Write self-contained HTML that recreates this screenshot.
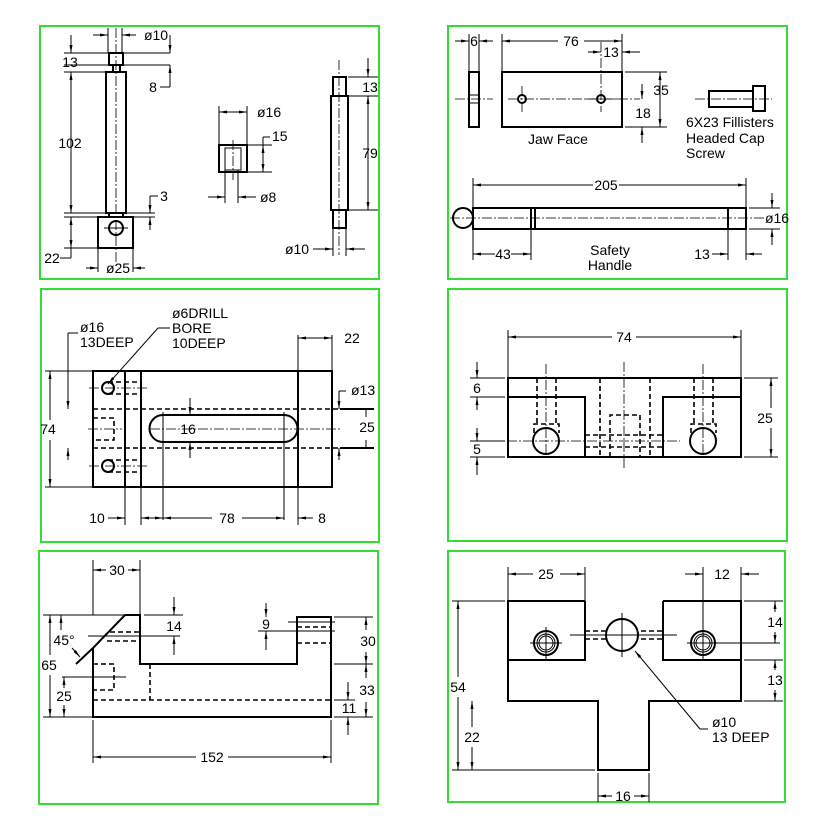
<!DOCTYPE html>
<html><head><meta charset="utf-8"><style>
html,body{margin:0;padding:0;background:#fff}
svg{display:block}
text{font-family:"Liberation Sans",sans-serif;font-size:14px;fill:#000;dominant-baseline:central;text-anchor:middle}
.t{text-anchor:start}
.b{fill:none;stroke:#000;stroke-width:2}
.n{fill:none;stroke:#000;stroke-width:1}
.h{fill:none;stroke:#000;stroke-width:1.6;stroke-dasharray:5,3}
.c{fill:none;stroke:#000;stroke-width:0.8;stroke-dasharray:10,2,2,2}
.g{fill:none;stroke:#33dd33;stroke-width:2}
</style></head><body>
<svg width="822" height="824" viewBox="0 0 822 824">
<defs><marker id="a" markerWidth="8" markerHeight="6" refX="8" refY="3" orient="auto-start-reverse"><path d="M0,1.5L8,3L0,4.5z" fill="#000"/></marker></defs>
<rect class="g" x="40" y="26" width="339" height="253"/>
<rect class="g" x="448" y="26" width="339" height="253"/>
<rect class="g" x="41" y="289" width="338" height="253"/>
<rect class="g" x="448" y="289" width="339" height="252"/>
<rect class="g" x="39" y="551" width="339" height="253"/>
<rect class="g" x="448" y="551" width="337" height="251"/>

<!-- PANEL 1 -->
<rect class="b" x="109" y="53" width="14" height="12"/>
<rect class="b" x="113" y="65" width="7" height="7"/>
<rect class="b" x="106" y="72" width="20" height="141"/>
<rect class="b" x="109" y="213" width="14" height="4"/>
<rect class="b" x="98" y="217" width="35" height="31"/>
<circle class="b" cx="116" cy="228" r="7"/>
<line class="c" x1="116" y1="28" x2="116" y2="262"/>
<line class="n" x1="104" y1="228" x2="128" y2="228"/>
<line class="n" x1="108" y1="28" x2="108" y2="53"/><line class="n" x1="122" y1="28" x2="122" y2="53"/>
<line class="n" x1="93" y1="35" x2="108" y2="35" marker-end="url(#a)"/><line class="n" x1="136" y1="35" x2="122" y2="35" marker-end="url(#a)"/>
<text x="156" y="35">ø10</text>
<line class="n" x1="64" y1="53" x2="170" y2="53"/><line class="n" x1="64" y1="65" x2="170" y2="65"/>
<line class="n" x1="64" y1="72" x2="106" y2="72"/><line class="n" x1="64" y1="213" x2="106" y2="213"/>
<line class="n" x1="64" y1="217" x2="98" y2="217"/><line class="n" x1="64" y1="248" x2="98" y2="248"/>
<line class="n" x1="71" y1="35" x2="71" y2="53" marker-end="url(#a)"/>
<line class="n" x1="71" y1="72" x2="71" y2="213" marker-start="url(#a)" marker-end="url(#a)"/>
<line class="n" x1="71" y1="217" x2="71" y2="248" marker-start="url(#a)" marker-end="url(#a)"/>
<text x="70" y="62">13</text><text x="70" y="143">102</text><text x="52" y="258">22</text>
<line class="n" x1="60" y1="258" x2="71" y2="258"/><line class="n" x1="71" y1="248" x2="71" y2="258"/>
<line class="n" x1="170" y1="35" x2="170" y2="53" marker-end="url(#a)"/>
<line class="n" x1="170" y1="80" x2="170" y2="65" marker-end="url(#a)"/>
<line class="n" x1="170" y1="80" x2="170" y2="87"/><line class="n" x1="160" y1="87" x2="170" y2="87"/>
<text x="153" y="87">8</text>
<line class="n" x1="126" y1="213" x2="155" y2="213"/><line class="n" x1="133" y1="217" x2="155" y2="217"/>
<line class="n" x1="150" y1="196" x2="150" y2="213" marker-end="url(#a)"/>
<line class="n" x1="150" y1="230" x2="150" y2="217" marker-end="url(#a)"/>
<line class="n" x1="150" y1="196" x2="158" y2="196"/><text x="164" y="196">3</text>
<line class="n" x1="98" y1="248" x2="98" y2="272"/><line class="n" x1="133" y1="248" x2="133" y2="272"/>
<line class="n" x1="86" y1="268" x2="98" y2="268" marker-end="url(#a)"/><line class="n" x1="145" y1="268" x2="133" y2="268" marker-end="url(#a)"/>
<text x="118" y="268">ø25</text>
<rect class="b" x="219" y="145" width="28" height="27"/>
<rect class="n" x="225" y="148" width="16" height="22"/>
<line class="c" x1="233" y1="140" x2="233" y2="180"/>
<line class="n" x1="219" y1="106" x2="219" y2="145"/><line class="n" x1="247" y1="106" x2="247" y2="145"/>
<line class="n" x1="219" y1="112" x2="247" y2="112" marker-start="url(#a)" marker-end="url(#a)"/>
<text x="257" y="112" class="t">ø16</text>
<line class="n" x1="247" y1="145" x2="272" y2="145"/><line class="n" x1="247" y1="172" x2="272" y2="172"/>
<line class="n" x1="263" y1="145" x2="263" y2="172" marker-start="url(#a)" marker-end="url(#a)"/>
<line class="n" x1="263" y1="137" x2="263" y2="145"/><line class="n" x1="263" y1="137" x2="270" y2="137"/>
<text x="272" y="136" class="t">15</text>
<line class="n" x1="225" y1="170" x2="225" y2="203"/><line class="n" x1="238" y1="170" x2="238" y2="203"/>
<line class="n" x1="208" y1="197" x2="225" y2="197" marker-end="url(#a)"/><line class="n" x1="256" y1="197" x2="238" y2="197" marker-end="url(#a)"/>
<text x="260" y="197" class="t">ø8</text>
<rect class="b" x="333" y="77" width="13" height="19"/>
<rect class="b" x="331" y="96" width="17" height="114"/>
<rect class="b" x="333" y="210" width="13" height="18"/>
<line class="c" x1="339" y1="60" x2="339" y2="255"/>
<line class="n" x1="348" y1="77" x2="378" y2="77"/><line class="n" x1="348" y1="96" x2="378" y2="96"/><line class="n" x1="348" y1="210" x2="378" y2="210"/>
<line class="n" x1="368" y1="58" x2="368" y2="77" marker-end="url(#a)"/>
<line class="n" x1="368" y1="96" x2="368" y2="210" marker-start="url(#a)" marker-end="url(#a)"/>
<text x="370" y="87">13</text><text x="370" y="153">79</text>
<line class="n" x1="333" y1="228" x2="333" y2="256"/><line class="n" x1="346" y1="228" x2="346" y2="256"/>
<line class="n" x1="313" y1="249" x2="333" y2="249" marker-end="url(#a)"/><line class="n" x1="365" y1="249" x2="346" y2="249" marker-end="url(#a)"/>
<text x="297" y="249">ø10</text>

<!-- PANEL 2 -->
<rect class="b" x="469" y="72" width="10" height="55"/>
<line class="c" x1="455" y1="99" x2="493" y2="99"/>
<line class="n" x1="469" y1="95" x2="479" y2="95"/><line class="n" x1="469" y1="103" x2="479" y2="103"/>
<line class="n" x1="469" y1="34" x2="469" y2="72"/><line class="n" x1="479" y1="34" x2="479" y2="72"/>
<line class="n" x1="455" y1="41" x2="469" y2="41" marker-end="url(#a)"/><line class="n" x1="493" y1="41" x2="479" y2="41" marker-end="url(#a)"/>
<text x="474" y="41">6</text>
<rect class="b" x="502" y="72" width="120" height="55"/>
<circle class="b" cx="522" cy="99" r="4"/><circle class="b" cx="601" cy="99" r="4"/>
<line class="c" x1="508" y1="99" x2="622" y2="99"/><line class="c" x1="586" y1="99" x2="640" y2="99"/>
<line class="c" x1="522" y1="86" x2="522" y2="112"/><line class="c" x1="601" y1="42" x2="601" y2="112"/>
<line class="n" x1="502" y1="34" x2="502" y2="72"/><line class="n" x1="622" y1="34" x2="622" y2="72"/>
<line class="n" x1="502" y1="41" x2="558" y2="41" marker-start="url(#a)"/><line class="n" x1="584" y1="41" x2="622" y2="41" marker-end="url(#a)"/>
<text x="571" y="41">76</text>
<line class="n" x1="588" y1="52" x2="601" y2="52" marker-end="url(#a)"/><line class="n" x1="640" y1="52" x2="622" y2="52" marker-end="url(#a)"/>
<text x="611" y="52">13</text>
<line class="n" x1="625" y1="72" x2="667" y2="72"/><line class="n" x1="625" y1="127" x2="667" y2="127"/>
<line class="n" x1="660" y1="72" x2="660" y2="127" marker-start="url(#a)" marker-end="url(#a)"/>
<text x="661" y="90">35</text>
<line class="n" x1="642" y1="84" x2="642" y2="99" marker-end="url(#a)"/>
<line class="n" x1="642" y1="143" x2="642" y2="127" marker-end="url(#a)"/>
<text x="643" y="113">18</text>
<text x="558" y="139">Jaw Face</text>
<rect class="b" x="709" y="91" width="44" height="16"/>
<rect class="b" x="753" y="86" width="12" height="25"/>
<line class="c" x1="695" y1="99" x2="772" y2="99"/>
<text x="686" y="122" class="t">6X23 Fillisters</text>
<text x="686" y="138" class="t">Headed Cap</text>
<text x="686" y="153" class="t">Screw</text>
<rect class="b" x="473" y="208" width="273" height="21"/>
<circle class="b" cx="463" cy="218" r="10"/>
<line class="b" x1="531" y1="208" x2="531" y2="229"/><line class="b" x1="535" y1="208" x2="535" y2="229"/>
<line class="b" x1="728" y1="208" x2="728" y2="229"/>
<line class="c" x1="450" y1="218" x2="765" y2="218"/>
<line class="n" x1="473" y1="178" x2="473" y2="260"/><line class="n" x1="746" y1="178" x2="746" y2="229"/>
<line class="n" x1="473" y1="185" x2="593" y2="185" marker-start="url(#a)"/><line class="n" x1="619" y1="185" x2="746" y2="185" marker-end="url(#a)"/>
<text x="606" y="185">205</text>
<line class="n" x1="749" y1="208" x2="780" y2="208"/><line class="n" x1="749" y1="229" x2="780" y2="229"/>
<line class="n" x1="772" y1="193" x2="772" y2="208" marker-end="url(#a)"/>
<line class="n" x1="772" y1="245" x2="772" y2="229" marker-end="url(#a)"/>
<text x="777" y="218">ø16</text>
<line class="n" x1="531" y1="229" x2="531" y2="260"/>
<line class="n" x1="495" y1="254" x2="473" y2="254" marker-end="url(#a)"/><line class="n" x1="511" y1="254" x2="531" y2="254" marker-end="url(#a)"/>
<text x="503" y="254">43</text>
<line class="n" x1="728" y1="229" x2="728" y2="260"/><line class="n" x1="746" y1="229" x2="746" y2="260"/>
<line class="n" x1="712" y1="254" x2="728" y2="254" marker-end="url(#a)"/><line class="n" x1="762" y1="254" x2="746" y2="254" marker-end="url(#a)"/>
<text x="702" y="254">13</text>
<text x="610" y="250">Safety</text><text x="610" y="265">Handle</text>

<!-- PANEL 3 -->
<rect class="b" x="93" y="371" width="239" height="116"/>
<line class="b" x1="125" y1="371" x2="125" y2="487"/><line class="b" x1="141" y1="371" x2="141" y2="487"/>
<line class="b" x1="298" y1="371" x2="298" y2="487"/>
<path class="b" d="M163,415 L284,415 A13.5,13.5 0 0 1 284,442 L163,442 A13.5,13.5 0 0 1 163,415z"/>
<line class="h" x1="93" y1="409" x2="340" y2="409"/><line class="h" x1="93" y1="448" x2="340" y2="448"/>
<line class="b" x1="340" y1="409" x2="374" y2="409"/><line class="b" x1="340" y1="448" x2="374" y2="448"/>
<path class="h" d="M93,418 L114,418 L114,440 L93,440"/>
<line class="c" x1="88" y1="429" x2="122" y2="429"/><line class="c" x1="150" y1="429" x2="340" y2="429"/>
<circle class="b" cx="108" cy="388" r="6"/><circle class="b" cx="108" cy="466" r="6"/>
<line class="h" x1="108" y1="382" x2="141" y2="382"/><line class="h" x1="108" y1="394" x2="141" y2="394"/>
<line class="h" x1="108" y1="460" x2="141" y2="460"/><line class="h" x1="108" y1="472" x2="141" y2="472"/>
<line class="c" x1="89" y1="388" x2="148" y2="388"/><line class="c" x1="89" y1="466" x2="148" y2="466"/>
<text x="188" y="429">16</text>
<line class="n" x1="190" y1="398" x2="190" y2="415" marker-end="url(#a)"/>
<line class="n" x1="190" y1="458" x2="190" y2="442" marker-end="url(#a)"/>
<line class="n" x1="163" y1="412" x2="163" y2="520"/><line class="n" x1="284" y1="412" x2="284" y2="520"/>
<line class="n" x1="125" y1="487" x2="125" y2="525"/><line class="n" x1="141" y1="487" x2="141" y2="525"/><line class="n" x1="298" y1="487" x2="298" y2="525"/>
<line class="n" x1="298" y1="335" x2="298" y2="371"/><line class="n" x1="332" y1="335" x2="332" y2="371"/>
<line class="n" x1="298" y1="338" x2="332" y2="338" marker-start="url(#a)" marker-end="url(#a)"/>
<text x="352" y="338">22</text>
<line class="n" x1="108" y1="518" x2="125" y2="518" marker-end="url(#a)"/><text x="97" y="518">10</text>
<line class="n" x1="141" y1="518" x2="163" y2="518" marker-start="url(#a)" marker-end="url(#a)"/>
<line class="n" x1="163" y1="518" x2="212" y2="518" marker-start="url(#a)"/><line class="n" x1="242" y1="518" x2="284" y2="518" marker-end="url(#a)"/>
<text x="227" y="518">78</text>
<line class="n" x1="313" y1="518" x2="298" y2="518" marker-end="url(#a)"/><text x="322" y="518">8</text>
<line class="n" x1="45" y1="371" x2="93" y2="371"/><line class="n" x1="45" y1="487" x2="93" y2="487"/>
<line class="n" x1="50" y1="371" x2="50" y2="420" marker-start="url(#a)"/><line class="n" x1="50" y1="440" x2="50" y2="487" marker-end="url(#a)"/>
<text x="48" y="429">74</text>
<line class="n" x1="68" y1="333" x2="68" y2="409" marker-end="url(#a)"/><line class="n" x1="68" y1="333" x2="78" y2="333"/>
<line class="n" x1="68" y1="460" x2="68" y2="448" marker-end="url(#a)"/>
<text x="80" y="327" class="t">ø16</text><text x="80" y="342" class="t">13DEEP</text>
<line class="n" x1="108" y1="384" x2="158" y2="328" marker-start="url(#a)"/><line class="n" x1="158" y1="328" x2="170" y2="328"/>
<text x="172" y="313" class="t">ø6DRILL</text><text x="172" y="328" class="t">BORE</text><text x="172" y="343" class="t">10DEEP</text>
<line class="n" x1="339" y1="391" x2="339" y2="409" marker-end="url(#a)"/><line class="n" x1="339" y1="391" x2="346" y2="391"/>
<line class="n" x1="339" y1="460" x2="339" y2="448" marker-end="url(#a)"/>
<text x="351" y="390" class="t">ø13</text>
<line class="n" x1="366" y1="409" x2="366" y2="417"/><line class="n" x1="366" y1="440" x2="366" y2="448"/>
<text x="367" y="427">25</text>

<!-- PANEL 4 -->
<rect class="b" x="508" y="378" width="233" height="79"/>
<path class="b" d="M508,397 L585,397 L585,457"/><path class="b" d="M741,397 L663,397 L663,457"/>
<line class="h" x1="537" y1="378" x2="537" y2="424"/><line class="h" x1="556" y1="378" x2="556" y2="424"/>
<line class="h" x1="694" y1="378" x2="694" y2="424"/><line class="h" x1="713" y1="378" x2="713" y2="424"/>
<path class="h" d="M534,433 L534,424 L559,424 L559,433"/><path class="h" d="M691,433 L691,424 L716,424 L716,433"/>
<circle class="b" cx="546" cy="441" r="13"/><circle class="b" cx="703" cy="441" r="13"/>
<line class="h" x1="600" y1="378" x2="600" y2="457"/><line class="h" x1="650" y1="378" x2="650" y2="457"/>
<path class="h" d="M610,457 L610,415 L640,415 L640,457"/>
<line class="h" x1="585" y1="435" x2="663" y2="435"/><line class="h" x1="585" y1="447" x2="663" y2="447"/>
<line class="c" x1="475" y1="441" x2="680" y2="441"/>
<line class="c" x1="546" y1="364" x2="546" y2="457"/><line class="c" x1="703" y1="364" x2="703" y2="457"/><line class="c" x1="624" y1="362" x2="624" y2="470"/>
<line class="n" x1="508" y1="330" x2="508" y2="378"/><line class="n" x1="741" y1="330" x2="741" y2="378"/>
<line class="n" x1="508" y1="337" x2="612" y2="337" marker-start="url(#a)"/><line class="n" x1="636" y1="337" x2="741" y2="337" marker-end="url(#a)"/>
<text x="624" y="337">74</text>
<line class="n" x1="470" y1="378" x2="505" y2="378"/><line class="n" x1="470" y1="397" x2="505" y2="397"/>
<line class="n" x1="470" y1="441" x2="505" y2="441"/><line class="n" x1="470" y1="457" x2="505" y2="457"/>
<line class="n" x1="477" y1="362" x2="477" y2="378" marker-end="url(#a)"/><line class="n" x1="477" y1="410" x2="477" y2="397" marker-end="url(#a)"/>
<line class="n" x1="477" y1="428" x2="477" y2="441" marker-end="url(#a)"/><line class="n" x1="477" y1="475" x2="477" y2="457" marker-end="url(#a)"/>
<text x="477" y="388">6</text><text x="477" y="449">5</text>
<line class="n" x1="744" y1="378" x2="778" y2="378"/><line class="n" x1="744" y1="457" x2="778" y2="457"/>
<line class="n" x1="771" y1="378" x2="771" y2="408" marker-start="url(#a)"/><line class="n" x1="771" y1="428" x2="771" y2="457" marker-end="url(#a)"/>
<text x="765" y="418">25</text>

<!-- PANEL 5 -->
<path class="b" d="M93,717 L331,717 L331,617 L297,617 L297,664 L140,664 L140,615 L125,615 L93,648 Z"/>
<line class="b" x1="93" y1="648" x2="76" y2="664"/>
<line class="h" x1="297" y1="627" x2="331" y2="627"/><line class="h" x1="297" y1="643" x2="331" y2="643"/>
<line class="h" x1="110" y1="632" x2="140" y2="632"/><line class="h" x1="107" y1="641" x2="140" y2="641"/>
<line class="n" x1="88" y1="636" x2="180" y2="636"/>
<path class="h" d="M93,664 L114,664 L114,690 L93,690"/>
<line class="n" x1="62" y1="677" x2="126" y2="677"/>
<line class="h" x1="150" y1="664" x2="150" y2="700"/><line class="h" x1="93" y1="700" x2="331" y2="700"/>
<line class="n" x1="288" y1="622" x2="335" y2="622"/><line class="n" x1="258" y1="631" x2="335" y2="631"/>
<line class="n" x1="93" y1="560" x2="93" y2="615"/><line class="n" x1="140" y1="560" x2="140" y2="615"/>
<line class="n" x1="93" y1="570" x2="106" y2="570" marker-start="url(#a)"/><line class="n" x1="128" y1="570" x2="140" y2="570" marker-end="url(#a)"/>
<text x="117" y="570">30</text>
<line class="n" x1="144" y1="615" x2="183" y2="615"/>
<line class="n" x1="174" y1="597" x2="174" y2="615" marker-end="url(#a)"/><line class="n" x1="174" y1="655" x2="174" y2="636" marker-end="url(#a)"/>
<text x="174" y="626">14</text>
<line class="n" x1="266" y1="603" x2="266" y2="617" marker-end="url(#a)"/><line class="n" x1="266" y1="650" x2="266" y2="631" marker-end="url(#a)"/>
<text x="266" y="624">9</text>
<line class="n" x1="334" y1="617" x2="373" y2="617"/><line class="n" x1="334" y1="664" x2="373" y2="664"/>
<line class="n" x1="334" y1="700" x2="355" y2="700"/><line class="n" x1="334" y1="717" x2="373" y2="717"/>
<line class="n" x1="366" y1="617" x2="366" y2="630" marker-start="url(#a)"/><line class="n" x1="366" y1="652" x2="366" y2="664" marker-end="url(#a)"/>
<line class="n" x1="366" y1="664" x2="366" y2="678" marker-start="url(#a)"/><line class="n" x1="366" y1="702" x2="366" y2="717" marker-end="url(#a)"/>
<text x="368" y="641">30</text><text x="367" y="690">33</text>
<line class="n" x1="348" y1="682" x2="348" y2="700" marker-end="url(#a)"/><line class="n" x1="348" y1="735" x2="348" y2="717" marker-end="url(#a)"/>
<text x="349" y="708">11</text>
<line class="n" x1="43" y1="615" x2="125" y2="615"/><line class="n" x1="43" y1="717" x2="93" y2="717"/>
<line class="n" x1="50" y1="615" x2="50" y2="655" marker-start="url(#a)"/><line class="n" x1="50" y1="675" x2="50" y2="717" marker-end="url(#a)"/>
<text x="49" y="665">65</text>
<line class="n" x1="61" y1="615" x2="61" y2="630" marker-start="url(#a)"/>
<text x="64" y="640">45°</text>
<line class="n" x1="72" y1="648" x2="80" y2="657" marker-end="url(#a)"/>
<line class="n" x1="64" y1="677" x2="64" y2="688" marker-start="url(#a)"/><line class="n" x1="64" y1="705" x2="64" y2="717" marker-end="url(#a)"/>
<text x="64" y="696">25</text>
<line class="n" x1="93" y1="720" x2="93" y2="763"/><line class="n" x1="331" y1="720" x2="331" y2="763"/>
<line class="n" x1="93" y1="757" x2="196" y2="757" marker-start="url(#a)"/><line class="n" x1="228" y1="757" x2="331" y2="757" marker-end="url(#a)"/>
<text x="212" y="757">152</text>

<!-- PANEL 6 -->
<path class="b" d="M585,601 L508,601 L508,701 L598,701 L598,770 L649,770 L649,701 L741,701 L741,601 L663,601"/>
<path class="b" d="M508,660 L585,660 L585,601"/><path class="b" d="M741,660 L663,660 L663,601"/>
<line class="h" x1="585" y1="631" x2="663" y2="631"/><line class="h" x1="585" y1="639" x2="663" y2="639"/>
<circle class="b" cx="622" cy="635" r="16" style="fill:#fff"/>
<circle class="b" cx="546" cy="643" r="12"/><circle class="n" cx="546" cy="643" r="9"/><circle class="n" cx="546" cy="643" r="7"/>
<circle class="b" cx="703" cy="643" r="12"/><circle class="n" cx="703" cy="643" r="9"/><circle class="n" cx="703" cy="643" r="7"/>
<line class="n" x1="530" y1="643" x2="562" y2="643"/><line class="n" x1="546" y1="627" x2="546" y2="659"/>
<line class="n" x1="687" y1="643" x2="780" y2="643"/><line class="n" x1="703" y1="567" x2="703" y2="659"/>
<line class="n" x1="570" y1="635" x2="677" y2="635"/><line class="n" x1="622" y1="613" x2="622" y2="657"/>
<line class="n" x1="508" y1="567" x2="508" y2="601"/><line class="n" x1="585" y1="567" x2="585" y2="601"/>
<line class="n" x1="508" y1="574" x2="533" y2="574" marker-start="url(#a)"/><line class="n" x1="560" y1="574" x2="585" y2="574" marker-end="url(#a)"/>
<text x="546" y="574">25</text>
<line class="n" x1="741" y1="567" x2="741" y2="601"/>
<line class="n" x1="685" y1="574" x2="703" y2="574" marker-end="url(#a)"/><line class="n" x1="759" y1="574" x2="741" y2="574" marker-end="url(#a)"/>
<text x="722" y="574">12</text>
<line class="n" x1="744" y1="601" x2="783" y2="601"/><line class="n" x1="744" y1="660" x2="783" y2="660"/><line class="n" x1="744" y1="701" x2="783" y2="701"/>
<line class="n" x1="775" y1="601" x2="775" y2="612" marker-start="url(#a)"/><line class="n" x1="775" y1="632" x2="775" y2="643" marker-end="url(#a)"/>
<line class="n" x1="775" y1="660" x2="775" y2="670" marker-start="url(#a)"/><line class="n" x1="775" y1="690" x2="775" y2="701" marker-end="url(#a)"/>
<text x="775" y="622">14</text><text x="775" y="680">13</text>
<line class="n" x1="452" y1="601" x2="505" y2="601"/><line class="n" x1="452" y1="770" x2="595" y2="770"/>
<line class="n" x1="458" y1="601" x2="458" y2="677" marker-start="url(#a)"/><line class="n" x1="458" y1="697" x2="458" y2="770" marker-end="url(#a)"/>
<text x="458" y="687">54</text>
<line class="n" x1="472" y1="701" x2="472" y2="727" marker-start="url(#a)"/><line class="n" x1="472" y1="747" x2="472" y2="770" marker-end="url(#a)"/>
<text x="472" y="737">22</text>
<line class="n" x1="598" y1="773" x2="598" y2="802"/><line class="n" x1="649" y1="773" x2="649" y2="802"/>
<line class="n" x1="598" y1="796" x2="612" y2="796" marker-start="url(#a)"/><line class="n" x1="634" y1="796" x2="649" y2="796" marker-end="url(#a)"/>
<text x="623" y="796">16</text>
<line class="n" x1="700" y1="729" x2="635" y2="651" marker-end="url(#a)"/><line class="n" x1="700" y1="729" x2="708" y2="729"/>
<text x="712" y="722" class="t">ø10</text><text x="712" y="737" class="t">13 DEEP</text>
</svg>
</body></html>
